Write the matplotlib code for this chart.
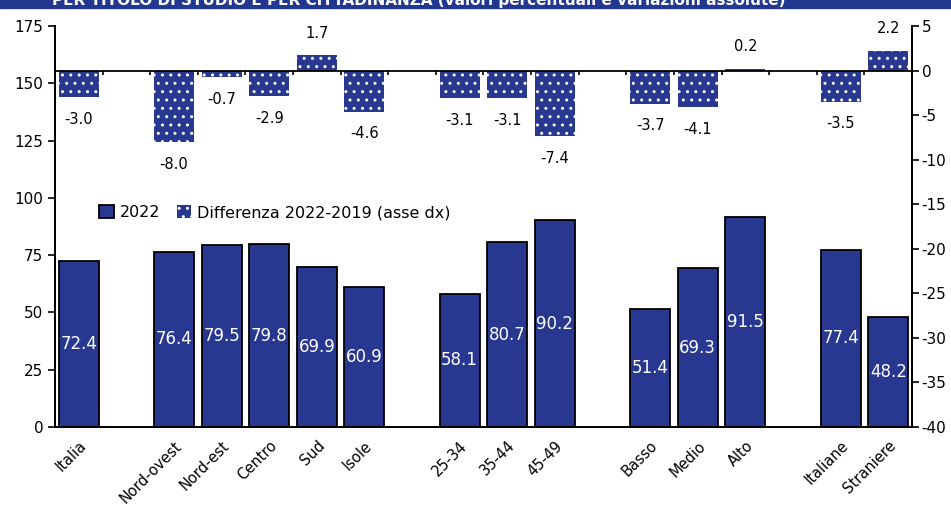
import numpy as np
import matplotlib.pyplot as plt
from matplotlib.patches import Patch, Rectangle

plt.rcParams['font.family'] = 'DejaVu Sans'
plt.rcParams['axes.unicode_minus'] = False
plt.rcParams['hatch.linewidth'] = 1.0

# --- data ---
categories = ['Italia', '', 'Nord-ovest', 'Nord-est', 'Centro', 'Sud', 'Isole', '',
              '25-34', '35-44', '45-49', '', 'Basso', 'Medio', 'Alto', '',
              'Italiane', 'Straniere']
rate_2022 = [72.4, None, 76.4, 79.5, 79.8, 69.9, 60.9, None,
             58.1, 80.7, 90.2, None, 51.4, 69.3, 91.5, None,
             77.4, 48.2]
diff_2022_2019 = [-3.0, None, -8.0, -0.7, -2.9, 1.7, -4.6, None,
                  -3.1, -3.1, -7.4, None, -3.7, -4.1, 0.2, None,
                  -3.5, 2.2]

BLUE = '#283891'

fig = plt.figure(figsize=(9.51, 5.18), dpi=100)
ax = fig.add_axes([0.0578, 0.1757, 0.9012, 0.7741])
ax2 = ax.twinx()

x = np.arange(len(categories))
w = 0.84
idx = [i for i, v in enumerate(rate_2022) if v is not None]
vals = np.array([rate_2022[i] for i in idx])
dvals = np.array([diff_2022_2019[i] for i in idx])

# left axis: 2022 levels
ax.bar(idx, vals, width=w, color=BLUE, edgecolor='black', linewidth=1.3, zorder=2)
for i, v in zip(idx, vals):
    ax.text(i, v / 2, f'{v:.1f}', ha='center', va='center', color='white', fontsize=12)

# right axis: change vs 2019
ax2.bar(idx, dvals, width=w, color=BLUE, edgecolor='white', linewidth=0, hatch='..', zorder=2)
ax2.axhline(0, color='black', lw=1.3, zorder=3)
ax2.vlines(np.arange(len(categories) - 1) + 0.5, -0.5, 0, color='black', lw=1.2, zorder=3)
for i, d in zip(idx, dvals):
    off = 16 if d > 0 else -16
    ax2.annotate(f'{d:.1f}', (i, d), xytext=(0, off), textcoords='offset points',
                 ha='center', va='center', fontsize=10.5)

ax.set_xlim(-0.5, len(categories) - 0.5)
ax.set_ylim(0, 175)
ax.set_yticks(np.arange(0, 176, 25))
ax2.set_ylim(-40, 5)
ax2.set_yticks(np.arange(-40, 6, 5))

ax.set_xticks(x)
ax.set_xticklabels(categories, rotation=45, ha='right', rotation_mode='anchor', fontsize=10.5)
ax.tick_params(axis='x', length=0, pad=8)
ax.tick_params(axis='y', labelsize=11, length=5, width=1.2, direction='out')
ax2.tick_params(axis='y', labelsize=11, length=5, width=1.2, direction='out', pad=2)

for a in (ax, ax2):
    a.spines['top'].set_visible(False)
    for s in ('left', 'right', 'bottom'):
        a.spines[s].set_linewidth(1.3)

handles = [Patch(facecolor=BLUE, edgecolor='black', linewidth=1.3, label='2022'),
           Patch(facecolor=BLUE, edgecolor='white', linewidth=0, hatch='..',
                 label='Differenza 2022-2019 (asse dx)')]
ax.legend(handles=handles, loc='center left', bbox_to_anchor=(0.035, 0.535), ncol=2,
          frameon=False, fontsize=11.5, handlelength=0.9, handleheight=0.9,
          handletextpad=0.4, columnspacing=1.0)

# header strip
fig.patches.append(Rectangle((0, 1 - 8 / 518), 1, 8 / 518, transform=fig.transFigure,
                             color='#22378F', zorder=0))
fig.text(785 / 951, 1 - 5 / 518,
         'PER TITOLO DI STUDIO E PER CITTADINANZA (valori percentuali e variazioni assolute)',
         ha='right', va='baseline', color='white', fontsize=11, fontweight='bold')

fig.savefig('out.png', dpi=100)
